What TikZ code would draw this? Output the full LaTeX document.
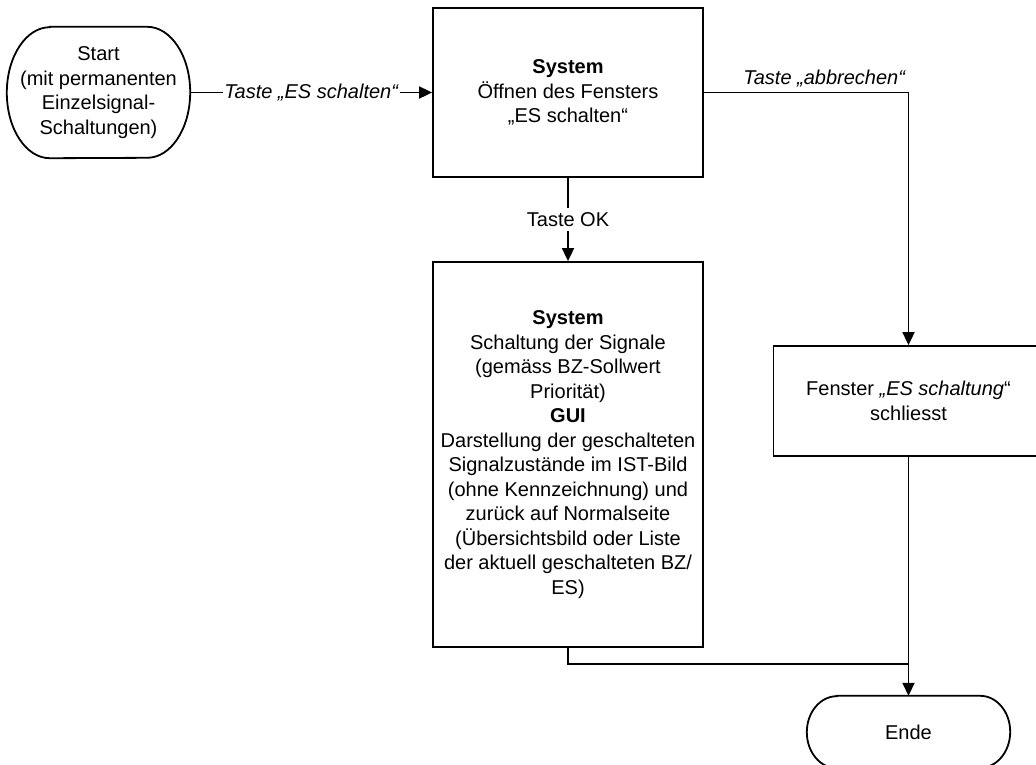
\documentclass[tikz,border=0pt]{standalone}
\usepackage{fontspec}
\setmainfont{Liberation Sans}
\usetikzlibrary{arrows.meta}
\newcommand{\flowfont}{\fontsize{20}{24.5}\selectfont}
\begin{document}
\begin{tikzpicture}[x=1pt,y=-1pt,
  every node/.style={font=\flowfont, align=center, inner sep=0pt},
  line/.style={line width=1.8pt},
  arr/.style={line width=1.8pt, -{Triangle[length=13pt,width=12pt]}},
  procbox/.style={draw, line width=1.8pt, minimum width=270pt},
  lbl/.style={fill=white, inner xsep=1.5pt, inner ysep=4pt},
  itlbl/.style={lbl, font=\flowfont\itshape}]
\useasboundingbox (0,0) rectangle (1036,764);

% terminators (text holders; outlines drawn below)
\node (start) [minimum width=183pt, minimum height=131pt] at (98.5,92.5)
  {Start\\(mit permanenten\\Einzelsignal-\\Schaltungen)};
\node (ende) [minimum width=203pt, minimum height=72pt] at (908.5,732) {Ende};

\draw[line] ([xshift=43pt]start.north west) -- ([xshift=-43pt]start.north east)
  arc[start angle=90, end angle=-90, x radius=43pt, y radius=65.5pt]
  -- ([xshift=43pt]start.south west)
  arc[start angle=270, end angle=90, x radius=43pt, y radius=65.5pt] -- cycle;
\draw[line] ([xshift=30pt]ende.north west) -- ([xshift=-30pt]ende.north east)
  arc[start angle=90, end angle=-90, x radius=30pt, y radius=36pt]
  -- ([xshift=30pt]ende.south west)
  arc[start angle=270, end angle=90, x radius=30pt, y radius=36pt] -- cycle;

% process boxes
\node (box1) [procbox, minimum height=169pt] at (568,92.5)
  {\textbf{System}\\Öffnen des Fensters\\„ES schalten“};
\node (box2) [procbox, minimum height=385pt] at (568,454.5)
  {\textbf{System}\\Schaltung der Signale\\(gemäss BZ-Sollwert\\Priorität)\\
   \textbf{GUI}\\Darstellung der geschalteten\\Signalzustände im IST-Bild\\
   (ohne Kennzeichnung) und\\zurück auf Normalseite\\(Übersichtsbild oder Liste\\
   der aktuell geschalteten BZ/\\ES)};
\node (box3) [procbox, minimum height=110pt] at (908.5,401)
  {Fenster \textit{„ES schaltung}“\\schliesst};

% connectors
\draw[arr] (start.east) -- node[itlbl] {Taste „ES schalten“} (box1.west);
\draw[arr] (box1.south) -- node[lbl, pos=0.5] {Taste OK} (box2.north);
\draw[arr] (box1.east) -| node[pos=0.294, anchor=base, yshift=8pt, font=\flowfont\itshape]
  {Taste „abbrechen“} (box3.north);
\coordinate (join) at (908.5,664);
\draw[line] (box2.south) |- (join);
\draw[arr] (box3.south) -- (ende.north);
\end{tikzpicture}
\end{document}
